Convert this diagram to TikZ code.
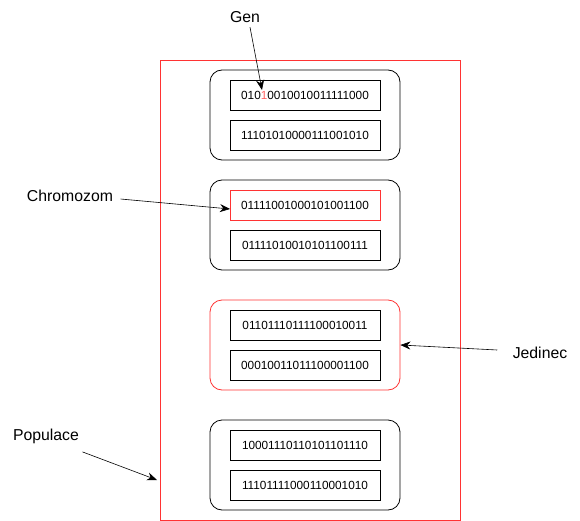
\documentclass[tikz,border=0pt]{standalone}
\usepackage{fontspec}
\setmainfont{Liberation Sans}
\usetikzlibrary{positioning,arrows.meta}
\definecolor{popred}{HTML}{FF3333}
\definecolor{genred}{HTML}{FF6666}

\begin{document}
\begin{tikzpicture}[
  x=1pt, y=-1pt,
  pop/.style={draw=popred, minimum width=300pt, minimum height=460pt},
  ind/.style={draw, thick, rounded corners=12pt, minimum width=190pt, minimum height=90pt},
  chrom/.style={draw, minimum width=150pt, minimum height=30pt, font=\fontsize{11.8}{13}\selectfont},
  lbl/.style={font=\fontsize{15.8}{18}\selectfont},
  arr/.style={-{Stealth[length=10pt,width=8pt]}, semithick},
  ]
  \useasboundingbox (0,0) rectangle (580,521);
  \node[pop] (pop) at (310,290) {};
  % jedinci
  \node[ind] (i1) at (305,115) {};
  \node[ind] (i2) at (305,225) {};
  \node[ind, draw=popred] (i3) at (305,345) {};
  \node[ind] (i4) at (305,465) {};
  % chromozomy
  \node[chrom] (c11) at (305,95) {010\textcolor{genred}{1}0010010011111000};
  \node[chrom] (c12) at (305,135) {11101010000111001010};
  \node[chrom, draw=popred] (c21) at (305,205) {01111001000101001100};
  \node[chrom] (c22) at (305,245) {01111010010101100111};
  \node[chrom] (c31) at (305,325) {01101110111100010011};
  \node[chrom] (c32) at (305,365) {00010011011100001100};
  \node[chrom] (c41) at (305,445) {10001110110101101110};
  \node[chrom] (c42) at (305,485) {11101111000110001010};
  % popisky
  \node[lbl] (gen) at (245,17) {Gen};
  \node[lbl] (chromlbl) at (70,196) {Chromozom};
  \node[lbl] (jed) at (540,353) {Jedinec};
  \node[lbl] (popl) at (46,436) {Populace};
  \coordinate (genpt) at (262,90);
  \coordinate (chrompt) at (230,209);
  \coordinate (poppt) at (157,480);
  \draw[arr] (gen.south)++(5,1) -- (genpt);
  \draw[arr] (chromlbl.east)++(4,3) -- (chrompt);
  \draw[arr] (jed.west)++(-12,-3) -- (i3.east);
  \draw[arr] (popl.south east)++(0,5) -- (poppt);
\end{tikzpicture}
\end{document}
